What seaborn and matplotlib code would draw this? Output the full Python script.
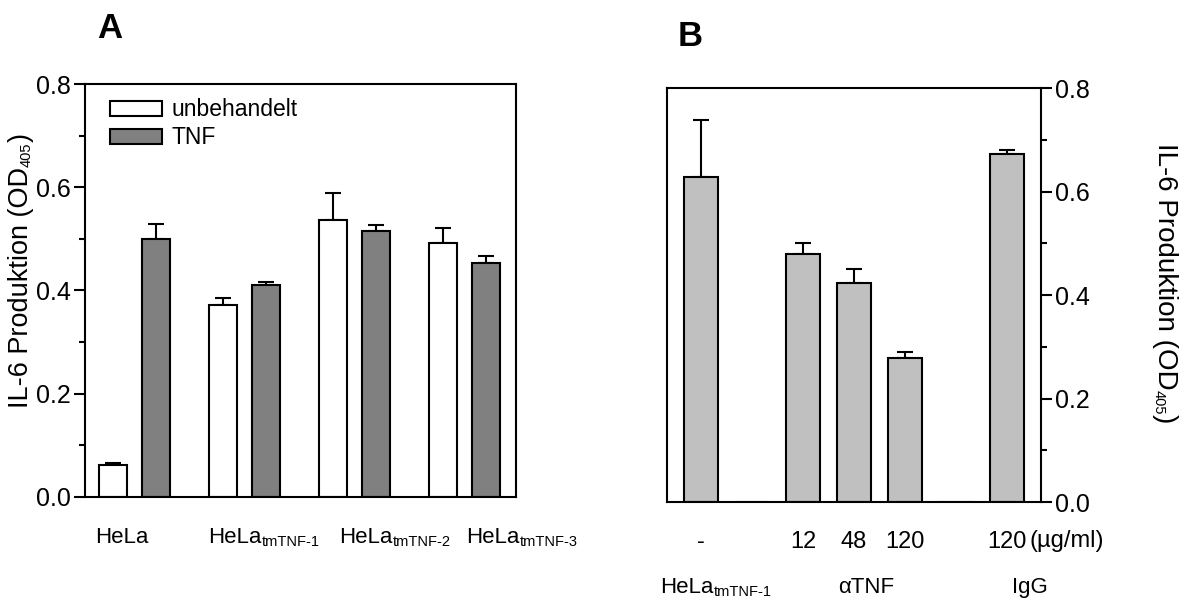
import numpy as np
import pandas as pd
import matplotlib
matplotlib.use("Agg")
import matplotlib.pyplot as plt
import matplotlib.transforms as mtransforms
from matplotlib.patches import Patch
import seaborn as sns

# ---- data panel A ----
zelllinien = ["HeLa", "tm1", "tm2", "tm3"]
zell_haupt = ["HeLa", "HeLa", "HeLa", "HeLa"]
zell_index = ["", "tmTNF-1", "tmTNF-2", "tmTNF-3"]
unbehandelt = [0.062, 0.372, 0.537, 0.492]
unbehandelt_err = [0.004, 0.014, 0.052, 0.029]
tnf = [0.500, 0.411, 0.516, 0.453]
tnf_err = [0.029, 0.005, 0.011, 0.014]

# ---- data panel B ----
bedingungen = ["kontrolle", "leer1", "a12", "a48", "a120", "leer2", "igg120"]
b_ticklabels = ["-", "", "12", "48", "120", "", "120"]
b_werte = [0.628, 0.0, 0.479, 0.423, 0.278, 0.0, 0.672]
b_err = [0.110, 0.0, 0.021, 0.027, 0.012, 0.0, 0.008]
b_gruppen = ["αTNF", "IgG"]

sns.set_style("ticks")
plt.rcParams["font.family"] = ["Liberation Sans", "DejaVu Sans"]
for key in ["text.color", "axes.labelcolor", "xtick.color", "ytick.color", "axes.edgecolor"]:
    plt.rcParams[key] = "black"

fig = plt.figure(figsize=(11.79, 6.0), dpi=100)


def style_axis(ax):
    for s in ax.spines.values():
        s.set_linewidth(1.5)
        s.set_color("black")
    ax.set_ylim(0, 0.8)
    ax.set_yticks([0.0, 0.2, 0.4, 0.6, 0.8])
    ax.set_yticks([0.1, 0.3, 0.5, 0.7], minor=True)
    ax.yaxis.set_major_formatter(matplotlib.ticker.FormatStrFormatter("%.1f"))
    ax.tick_params(axis="y", which="major", length=8, width=1.5, labelsize=18, pad=2)
    ax.tick_params(axis="y", which="minor", length=4.5, width=1.5)
    ax.tick_params(axis="x", length=0)


def add_err(ax, errs):
    bars = [b for c in ax.containers for b in c]
    for b, e in zip(bars, errs):
        if e <= 0:
            continue
        x = b.get_x() + b.get_width() / 2
        h = b.get_height()
        ax.errorbar(x, h, yerr=[[0], [e]], fmt="none", ecolor="black",
                    elinewidth=1.5, capsize=6, capthick=1.5, zorder=1)


def label_with_index(ax, x, y, main, sub, transform, size=16, subsize=10.5):
    t = ax.text(x, y, main, transform=transform, ha="left", va="baseline", fontsize=size)
    if sub:
        ax.annotate(sub, xy=(1, 0), xycoords=t, ha="left", va="bottom",
                    xytext=(0, -0.5), textcoords="offset points", fontsize=subsize)
    return t


# ---- panel A ----
axA = fig.add_axes([0.0721, 0.1717, 0.3656, 0.6883])
dfA = pd.DataFrame({
    "zelle": zelllinien * 2,
    "behandlung": ["unbehandelt"] * 4 + ["TNF"] * 4,
    "wert": unbehandelt + tnf,
})
sns.barplot(data=dfA, x="zelle", y="wert", hue="behandlung", order=zelllinien,
            hue_order=["unbehandelt", "TNF"],
            palette={"unbehandelt": "white", "TNF": "#808080"},
            width=0.78, gap=0.35, edgecolor="black", linewidth=1.5,
            errorbar=None, legend=False, ax=axA, zorder=2)
add_err(axA, unbehandelt_err + tnf_err)
style_axis(axA)
axA.set_xlim(-0.45, 3.47)
axA.set_xticks([])
axA.set_xlabel("")
axA.set_ylabel("")
trA = mtransforms.blended_transform_factory(axA.transData, axA.transAxes)
for pos, haupt, idx in zip([-0.359, 0.668, 1.86, 3.02], zell_haupt, zell_index):
    label_with_index(axA, pos, -0.111, haupt, idx, trA)
handles = [Patch(facecolor="white", edgecolor="black", linewidth=1.5, label="unbehandelt"),
           Patch(facecolor="#808080", edgecolor="black", linewidth=1.5, label="TNF")]
axA.legend(handles=handles, loc="upper left", bbox_to_anchor=(0.058, 0.965),
           frameon=False, fontsize=16.5, handlelength=2.27, handleheight=0.65,
           handletextpad=0.4, labelspacing=0.22, borderpad=0, borderaxespad=0)
fig.text(110 / 1179, 1 - 28 / 600, "A", fontsize=25, fontweight="bold", ha="center", va="center")

# left y label built from pieces (small index)
tA = axA.text(21 / 1179, 1 - 408 / 600, "IL-6 Produktion (OD", transform=fig.transFigure,
              rotation=90, ha="center", va="bottom", fontsize=19.5)
sA = axA.annotate("405", xy=(1, 1), xycoords=tA, rotation=90, fontsize=10.5,
                  ha="right", va="bottom", annotation_clip=False)
axA.annotate(")", xy=(1, 1), xycoords=(tA, sA), rotation=90, fontsize=19.5,
             ha="right", va="bottom", annotation_clip=False)

# ---- panel B ----
axB = fig.add_axes([0.5657, 0.1633, 0.3172, 0.69])
dfB = pd.DataFrame({"bedingung": bedingungen, "wert": b_werte})
sns.barplot(data=dfB, x="bedingung", y="wert", order=bedingungen, color="#c0c0c0",
            saturation=1, width=0.67, edgecolor="black", linewidth=1.5,
            errorbar=None, ax=axB, zorder=2)
add_err(axB, b_err)
style_axis(axB)
axB.set_xlim(-0.67, 6.67)
axB.yaxis.tick_right()
axB.tick_params(axis="y", which="both", left=False, right=True)
axB.set_xticks(range(len(bedingungen)))
axB.set_xticklabels(b_ticklabels, fontsize=17)
axB.tick_params(axis="x", pad=21)
axB.set_xlabel("")
axB.set_ylabel("")
trB = mtransforms.blended_transform_factory(axB.transData, axB.transAxes)
axB.text(7.18, -0.094, "(µg/ml)", transform=trB, ha="center", va="center", fontsize=17)
label_with_index(axB, -0.80, -0.22, "HeLa", "tmTNF-1", trB)
for pos, lab in zip([3.25, 6.45], b_gruppen):
    axB.text(pos, -0.22, lab, transform=trB, ha="center", va="baseline", fontsize=16)
fig.text(690 / 1179, 1 - 37 / 600, "B", fontsize=25, fontweight="bold", ha="center", va="center")

# right y label (reads top -> bottom)
tB = axB.text(1152 / 1179, 1 - 143 / 600, "IL-6 Produktion (OD", transform=fig.transFigure,
              rotation=-90, ha="left", va="top", fontsize=20)
sB = axB.annotate("405", xy=(0, 0), xycoords=tB, rotation=-90, fontsize=10.5,
                  ha="left", va="top", annotation_clip=False)
axB.annotate(")", xy=(0, 0), xycoords=(tB, sB), rotation=-90, fontsize=20,
             ha="left", va="top", annotation_clip=False)

fig.savefig("out.png", dpi=100)
